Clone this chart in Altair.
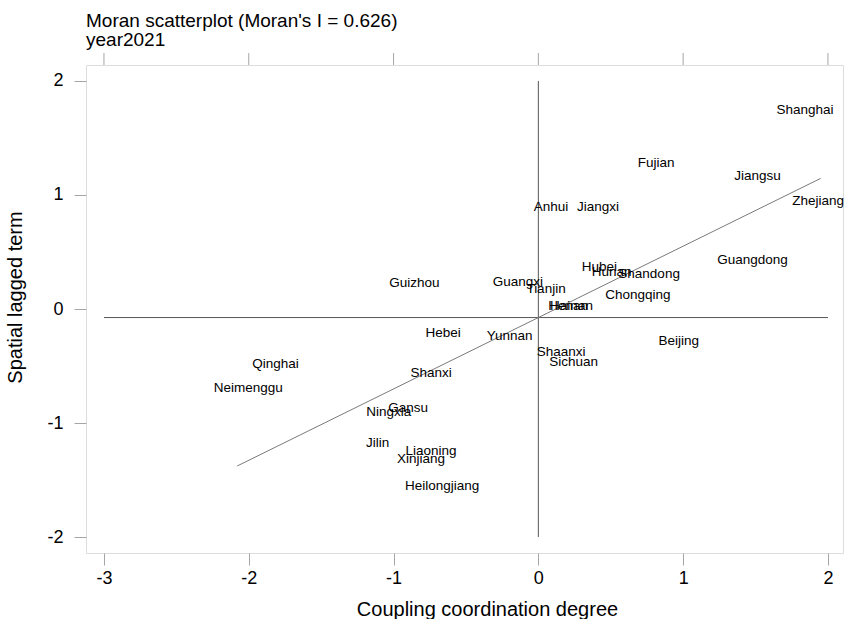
import altair as alt
import pandas as pd

# Moran scatterplot, 2021: standardized coupling coordination degree (x)
# against its spatial lag (y), labelled by province.
provinces = [
    "Shanghai", "Fujian", "Jiangsu", "Zhejiang", "Anhui", "Jiangxi",
    "Guangdong", "Hubei", "Hunan", "Shandong", "Chongqing", "Guizhou",
    "Guangxi", "Tianjin", "Henan", "Hainan", "Hebei", "Yunnan", "Beijing",
    "Shaanxi", "Sichuan", "Qinghai", "Neimenggu", "Shanxi", "Gansu",
    "Ningxia", "Jilin", "Liaoning", "Xinjiang", "Heilongjiang",
]
z_values = [
    1.842, 0.813, 1.514, 1.932, 0.088, 0.412,
    1.479, 0.422, 0.506, 0.765, 0.688, -0.856,
    -0.142, 0.053, 0.205, 0.229, -0.658, -0.198, 0.970,
    0.157, 0.243, -1.816, -2.003, -0.741, -0.900,
    -1.033, -1.110, -0.741, -0.810, -0.665,
]
wz_values = [
    1.746, 1.283, 1.167, 0.947, 0.897, 0.897,
    0.430, 0.368, 0.325, 0.307, 0.123, 0.231,
    0.239, 0.173, 0.029, 0.029, -0.213, -0.234, -0.281,
    -0.375, -0.468, -0.482, -0.696, -0.564, -0.871,
    -0.906, -1.178, -1.243, -1.316, -1.553,
]

moran_i = 0.626          # slope of the fitted line
fit_intercept = -0.075   # intercept of the fitted line (mean of the lag)
fit_x_range = [-2.08, 1.95]

x_ticks = [-3, -2, -1, 0, 1, 2]
y_ticks = [-2, -1, 0, 1, 2]

FONT = "Liberation Sans"
GREY = "#a6a6a6"

points = pd.DataFrame({"province": provinces, "z": z_values, "wz": wz_values})
fit = pd.DataFrame({
    "z": fit_x_range,
    "wz": [fit_intercept + moran_i * v for v in fit_x_range],
})
# quadrant divider lines: horizontal at the mean lag, vertical at z = 0
dividers = pd.DataFrame({
    "x0": [x_ticks[0], 0], "x1": [x_ticks[-1], 0],
    "y0": [fit_intercept, y_ticks[0]], "y1": [fit_intercept, y_ticks[-1]],
})
top_ticks = pd.DataFrame({"t": x_ticks})

x_scale = alt.Scale(domain=[-3.124, 2.104], nice=False, zero=False)
y_scale = alt.Scale(domain=[-2.14, 2.14], nice=False, zero=False)

# plain hyphen-minus on the tick labels
plain_label = "'' + datum.value"

x_axis = alt.Axis(
    values=x_ticks, title="Coupling coordination degree", grid=False,
    domain=False, tickSize=12, tickColor=GREY, labelFontSize=18,
    labelPadding=4, labelColor="black", labelFont=FONT, labelExpr=plain_label,
    titleFont=FONT, titleFontSize=20, titleFontWeight="normal",
    titleColor="black", titleX=401, titleY=62,
    titleBaseline="alphabetic", titleAlign="center",
)
y_axis = alt.Axis(
    values=y_ticks, title="Spatial lagged term", grid=False,
    domain=False, tickSize=12, tickColor=GREY, labelFontSize=18,
    labelPadding=11, labelColor="black", labelFont=FONT, labelExpr=plain_label,
    titleFont=FONT, titleFontSize=20, titleFontWeight="normal",
    titleColor="black", titleX=-65, titleY=232, titleAngle=-90,
    titleBaseline="alphabetic", titleAlign="center",
)

divider_layer = alt.Chart(dividers).mark_rule(color="#555555", strokeWidth=1).encode(
    x=alt.X("x0:Q", scale=x_scale, axis=x_axis),
    x2="x1:Q",
    y=alt.Y("y0:Q", scale=y_scale, axis=y_axis),
    y2="y1:Q",
)

fit_layer = alt.Chart(fit).mark_line(color="#7a7a7a", strokeWidth=1).encode(
    x=alt.X("z:Q", scale=x_scale, axis=x_axis),
    y=alt.Y("wz:Q", scale=y_scale, axis=y_axis),
)

top_tick_layer = alt.Chart(top_ticks).mark_rule(color=GREY, strokeWidth=1).encode(
    x=alt.X("t:Q", scale=x_scale, axis=x_axis),
    y=alt.value(-12),
    y2=alt.value(0),
)

label_layer = alt.Chart(points).mark_text(
    font=FONT, fontSize=13.5, color="black", align="center", baseline="middle"
).encode(
    x=alt.X("z:Q", scale=x_scale, axis=x_axis),
    y=alt.Y("wz:Q", scale=y_scale, axis=y_axis),
    text="province:N",
)

chart = alt.layer(divider_layer, fit_layer, top_tick_layer, label_layer).properties(
    width=757,
    height=488,
    padding={"left": 86, "top": 65, "right": 5, "bottom": 66},
    autosize=alt.AutoSizeParams(type="none"),
    title=alt.TitleParams(
        text="Moran scatterplot (Moran's I = 0.626)",
        subtitle="year2021",
        anchor="start",
        frame="group",
        font=FONT,
        fontSize=19,
        fontWeight="normal",
        color="black",
        subtitleFont=FONT,
        subtitleFontSize=19,
        subtitleColor="black",
        subtitlePadding=0,
        offset=3,
    ),
).configure_view(
    stroke=GREY, strokeWidth=1
).configure(background="white")

chart.save("out.html", embed_options={"renderer": "svg", "actions": False})
